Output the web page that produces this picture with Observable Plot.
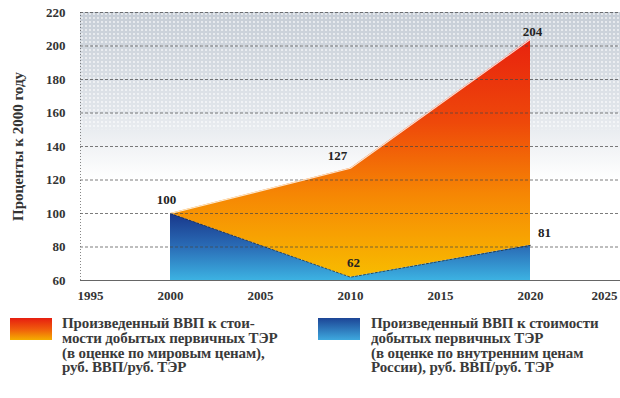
<!DOCTYPE html>
<html><head><meta charset="utf-8">
<script src="https://cdn.jsdelivr.net/npm/d3@7"></script>
<script src="https://cdn.jsdelivr.net/npm/@observablehq/plot@0.6"></script>
<style>
body{margin:0;background:#fff;font-family:"Liberation Serif","Times New Roman",serif;}
#legend{position:relative;height:93px;width:620px;}
.sw{position:absolute;width:42px;height:22px;}
.txt{position:absolute;font-weight:bold;font-size:15px;line-height:14.8px;color:#3a3a3a;white-space:nowrap;letter-spacing:-0.1px;}
</style></head><body>
<div id="chart"></div>
<div id="legend">
  <div class="sw" style="left:10px;top:13px;background:linear-gradient(#e61e10,#f05a0c 50%,#f5ae00);"></div>
  <div class="txt" id="t0" style="left:62px;top:11px;"></div>
  <div class="sw" style="left:318px;top:13px;background:linear-gradient(#1d4596,#3ea8de);"></div>
  <div class="txt" id="t1" style="left:371px;top:11px;"></div>
</div>
<script>
const years = [2000, 2010, 2020];
const worldPrices = [100, 127, 204];
const domesticPrices = [100, 62, 81];
const xTicks = [1995, 2000, 2005, 2010, 2015, 2020, 2025];
const yTicks = [60, 80, 100, 120, 140, 160, 180, 200, 220];
const yLabel = "Проценты к 2000 году";
const legendWorld = ["Произведенный ВВП к стои-", "мости добытых первичных ТЭР", "(в оценке по мировым ценам),", "руб. ВВП/руб. ТЭР"];
const legendDomestic = ["Произведенный ВВП к стоимости", "добытых первичных ТЭР", "(в оценке по внутренним ценам", "России), руб. ВВП/руб. ТЭР"];

const rows = years.map((y, i) => ({year: y, world: worldPrices[i], domestic: domesticPrices[i]}));

const defs = () => {
  const d = d3.create("svg:defs");
  const o = d.append("linearGradient").attr("id", "gOrange").attr("x1", 0).attr("y1", 0).attr("x2", 0).attr("y2", 1);
  [[0, "#e8220e"], [0.35, "#ee480a"], [0.65, "#f68604"], [1, "#f8bc00"]].forEach(([p, c]) => o.append("stop").attr("offset", p).attr("stop-color", c));
  const b = d.append("linearGradient").attr("id", "gBlue").attr("x1", 0).attr("y1", 0).attr("x2", 0).attr("y2", 1);
  [[0, "#18368a"], [0.5, "#2a6cb6"], [1, "#3cb2e2"]].forEach(([p, c]) => b.append("stop").attr("offset", p).attr("stop-color", c));
  const g = d.append("linearGradient").attr("id", "gBg").attr("x1", 0).attr("y1", 0).attr("x2", 0).attr("y2", 1);
  [[0, "#c6cdd6"], [0.6, "#e2e6eb"], [1, "#ffffff"]].forEach(([p, c]) => g.append("stop").attr("offset", p).attr("stop-color", c));
  const pt = d.append("pattern").attr("id", "dots").attr("width", 4).attr("height", 4).attr("patternUnits", "userSpaceOnUse");
  pt.append("circle").attr("cx", 2).attr("cy", 2).attr("r", 0.9).attr("fill", "#ffffff");
  return d.node();
};

const axisStyle = {tickSize: 0, tickPadding: 10, tickFormat: "d", fontSize: 13, fill: "#333"};

const chart = Plot.plot({
  width: 620,
  height: 305,
  marginLeft: 80,
  marginRight: 0,
  marginTop: 12,
  marginBottom: 25,
  style: {fontFamily: "'Liberation Serif', 'Times New Roman', serif", fontSize: "13px", fontWeight: "bold", color: "#333", background: "#fff"},
  x: {domain: [1995, 2025], label: null},
  y: {domain: [60, 220], label: null},
  marks: [
    defs,
    Plot.rect([0], {x1: 1995, x2: 2025, y1: 120, y2: 220, fill: "url(#gBg)"}),
    Plot.rect([0], {x1: 1995, x2: 2025, y1: 150, y2: 220, fill: "url(#dots)", fillOpacity: 0.8}),
    Plot.areaY(rows, {x: "year", y1: 60, y2: "domestic", fill: "url(#gBlue)"}),
    Plot.areaY(rows, {x: "year", y1: "domestic", y2: "world", fill: "url(#gOrange)"}),
    Plot.ruleY(yTicks, {x1: 1995, x2: 2025, stroke: "#444", strokeOpacity: 0.7, strokeDasharray: "3,2"}),
    Plot.ruleX([1995], {stroke: "#555", strokeOpacity: 0.7, strokeDasharray: "1,2"}),
    Plot.ruleY([60], {stroke: "#666"}),
    Plot.line(rows, {x: "year", y: "world", stroke: "#fff", strokeWidth: 1.2, strokeOpacity: 0.8}),
    Plot.line(rows, {x: "year", y: "domestic", stroke: "#222", strokeWidth: 1, strokeDasharray: "2,2", strokeOpacity: 0.7}),
    Plot.axisY(yTicks, {tickSize: 0, tickPadding: 15, fontSize: 13, fill: "#333", label: null}),
    Plot.text([yLabel], {frameAnchor: "left", textAnchor: "middle", dx: -62, rotate: -90, fontSize: 15, fill: "#333", text: d => d}),
    Plot.axisX(xTicks.slice(1, -1), {...axisStyle}),
    Plot.axisX([xTicks[0]], {...axisStyle, dx: 10}),
    Plot.axisX([xTicks[xTicks.length - 1]], {...axisStyle, dx: -16}),
    Plot.text([rows[0]], {x: "year", y: "world", text: d => String(d.world), dx: -4, dy: -14, fill: "#222"}),
    Plot.text([rows[1]], {x: "year", y: "world", text: d => String(d.world), dx: -13, dy: -12, fill: "#222"}),
    Plot.text([rows[2]], {x: "year", y: "world", text: d => String(d.world), dx: 2, dy: -7, fill: "#222"}),
    Plot.text([rows[1]], {x: "year", y: "domestic", text: d => String(d.domestic), dx: 3, dy: -14, fill: "#222"}),
    Plot.text([rows[2]], {x: "year", y: "domestic", text: d => String(d.domestic), dx: 14, dy: -12, fill: "#222"})
  ]
});
document.getElementById("chart").appendChild(chart);
document.getElementById("t0").innerHTML = legendWorld.join("<br>");
document.getElementById("t1").innerHTML = legendDomestic.join("<br>");
</script>
</body></html>
